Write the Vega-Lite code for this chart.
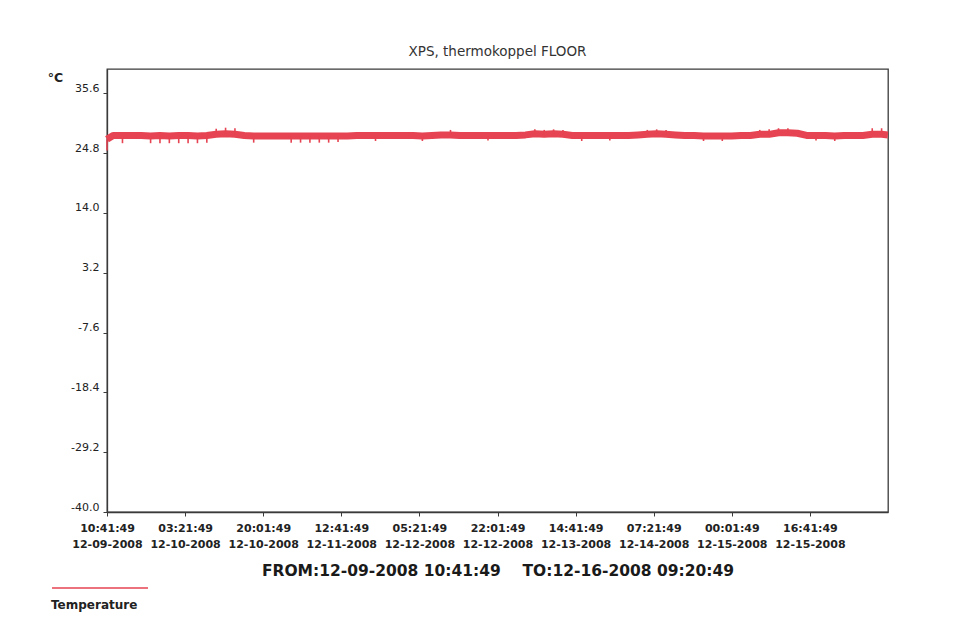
{
  "$schema": "https://vega.github.io/schema/vega-lite/v6.json",
  "width": 781,
  "height": 443,
  "autosize": "none",
  "padding": {"left": 107, "top": 69, "right": 91, "bottom": 122},
  "background": "white",
  "title": {"text": "XPS, thermokoppel FLOOR", "fontSize": 13.5, "fontWeight": "normal", "color": "#333", "anchor": "middle", "frame": "group", "baseline": "alphabetic", "offset": 0, "dy": 0, "font": "DejaVu Sans"},
  "data": {"values": [
    {"t": "2008-12-09T10:41:49Z", "temp": 27.3, "lo": 25.3, "hi": 27.3},
    {"t": "2008-12-09T12:00:00Z", "temp": 28.0, "lo": 28.0, "hi": 28.0},
    {"t": "2008-12-09T14:00:00Z", "temp": 28.0, "lo": 26.6, "hi": 28.0},
    {"t": "2008-12-09T16:00:00Z", "temp": 28.0, "lo": 28.0, "hi": 28.0},
    {"t": "2008-12-09T18:00:00Z", "temp": 28.0, "lo": 28.0, "hi": 28.0},
    {"t": "2008-12-09T20:00:00Z", "temp": 27.9, "lo": 26.6, "hi": 27.9},
    {"t": "2008-12-09T22:00:00Z", "temp": 28.0, "lo": 26.6, "hi": 28.0},
    {"t": "2008-12-10T00:00:00Z", "temp": 27.9, "lo": 26.6, "hi": 27.9},
    {"t": "2008-12-10T02:00:00Z", "temp": 28.0, "lo": 26.6, "hi": 28.0},
    {"t": "2008-12-10T04:00:00Z", "temp": 28.0, "lo": 26.6, "hi": 28.0},
    {"t": "2008-12-10T06:00:00Z", "temp": 27.9, "lo": 26.6, "hi": 27.9},
    {"t": "2008-12-10T08:00:00Z", "temp": 28.0, "lo": 26.7, "hi": 28.0},
    {"t": "2008-12-10T10:00:00Z", "temp": 28.2, "lo": 28.2, "hi": 29.2},
    {"t": "2008-12-10T12:00:00Z", "temp": 28.3, "lo": 28.3, "hi": 29.4},
    {"t": "2008-12-10T14:00:00Z", "temp": 28.2, "lo": 28.2, "hi": 29.3},
    {"t": "2008-12-10T16:00:00Z", "temp": 28.0, "lo": 28.0, "hi": 28.0},
    {"t": "2008-12-10T18:00:00Z", "temp": 27.9, "lo": 26.7, "hi": 27.9},
    {"t": "2008-12-10T20:00:00Z", "temp": 27.9, "lo": 27.9, "hi": 27.9},
    {"t": "2008-12-10T22:00:00Z", "temp": 27.9, "lo": 27.9, "hi": 27.9},
    {"t": "2008-12-11T00:00:00Z", "temp": 27.9, "lo": 27.9, "hi": 27.9},
    {"t": "2008-12-11T02:00:00Z", "temp": 27.9, "lo": 26.7, "hi": 27.9},
    {"t": "2008-12-11T04:00:00Z", "temp": 27.9, "lo": 26.7, "hi": 27.9},
    {"t": "2008-12-11T06:00:00Z", "temp": 27.9, "lo": 26.7, "hi": 27.9},
    {"t": "2008-12-11T08:00:00Z", "temp": 27.9, "lo": 26.7, "hi": 27.9},
    {"t": "2008-12-11T10:00:00Z", "temp": 27.9, "lo": 26.7, "hi": 27.9},
    {"t": "2008-12-11T12:00:00Z", "temp": 27.9, "lo": 26.8, "hi": 27.9},
    {"t": "2008-12-11T14:00:00Z", "temp": 27.9, "lo": 27.9, "hi": 27.9},
    {"t": "2008-12-11T16:00:00Z", "temp": 28.0, "lo": 28.0, "hi": 28.0},
    {"t": "2008-12-11T18:00:00Z", "temp": 28.0, "lo": 28.0, "hi": 28.0},
    {"t": "2008-12-11T20:00:00Z", "temp": 28.0, "lo": 27.0, "hi": 28.0},
    {"t": "2008-12-11T22:00:00Z", "temp": 28.0, "lo": 28.0, "hi": 28.0},
    {"t": "2008-12-12T00:00:00Z", "temp": 28.0, "lo": 28.0, "hi": 28.0},
    {"t": "2008-12-12T02:00:00Z", "temp": 28.0, "lo": 28.0, "hi": 28.0},
    {"t": "2008-12-12T04:00:00Z", "temp": 28.0, "lo": 28.0, "hi": 28.0},
    {"t": "2008-12-12T06:00:00Z", "temp": 27.9, "lo": 27.0, "hi": 27.9},
    {"t": "2008-12-12T08:00:00Z", "temp": 28.0, "lo": 28.0, "hi": 28.0},
    {"t": "2008-12-12T10:00:00Z", "temp": 28.1, "lo": 28.1, "hi": 28.1},
    {"t": "2008-12-12T12:00:00Z", "temp": 28.1, "lo": 28.1, "hi": 29.0},
    {"t": "2008-12-12T14:00:00Z", "temp": 28.0, "lo": 28.0, "hi": 28.0},
    {"t": "2008-12-12T16:00:00Z", "temp": 28.0, "lo": 28.0, "hi": 28.0},
    {"t": "2008-12-12T18:00:00Z", "temp": 28.0, "lo": 28.0, "hi": 28.0},
    {"t": "2008-12-12T20:00:00Z", "temp": 28.0, "lo": 27.1, "hi": 28.0},
    {"t": "2008-12-12T22:00:00Z", "temp": 28.0, "lo": 28.0, "hi": 28.0},
    {"t": "2008-12-13T00:00:00Z", "temp": 28.0, "lo": 28.0, "hi": 28.0},
    {"t": "2008-12-13T02:00:00Z", "temp": 28.0, "lo": 28.0, "hi": 28.0},
    {"t": "2008-12-13T04:00:00Z", "temp": 28.1, "lo": 28.1, "hi": 28.1},
    {"t": "2008-12-13T06:00:00Z", "temp": 28.3, "lo": 28.3, "hi": 29.1},
    {"t": "2008-12-13T08:00:00Z", "temp": 28.2, "lo": 28.2, "hi": 29.0},
    {"t": "2008-12-13T10:00:00Z", "temp": 28.3, "lo": 28.3, "hi": 29.1},
    {"t": "2008-12-13T12:00:00Z", "temp": 28.2, "lo": 28.2, "hi": 29.0},
    {"t": "2008-12-13T14:00:00Z", "temp": 28.0, "lo": 28.0, "hi": 28.0},
    {"t": "2008-12-13T16:00:00Z", "temp": 28.0, "lo": 27.0, "hi": 28.0},
    {"t": "2008-12-13T18:00:00Z", "temp": 28.0, "lo": 28.0, "hi": 28.0},
    {"t": "2008-12-13T20:00:00Z", "temp": 28.0, "lo": 28.0, "hi": 28.0},
    {"t": "2008-12-13T22:00:00Z", "temp": 28.0, "lo": 27.1, "hi": 28.0},
    {"t": "2008-12-14T00:00:00Z", "temp": 28.0, "lo": 28.0, "hi": 28.0},
    {"t": "2008-12-14T02:00:00Z", "temp": 28.0, "lo": 28.0, "hi": 28.0},
    {"t": "2008-12-14T04:00:00Z", "temp": 28.1, "lo": 28.1, "hi": 28.1},
    {"t": "2008-12-14T06:00:00Z", "temp": 28.2, "lo": 28.2, "hi": 29.0},
    {"t": "2008-12-14T08:00:00Z", "temp": 28.3, "lo": 28.3, "hi": 29.1},
    {"t": "2008-12-14T10:00:00Z", "temp": 28.2, "lo": 28.2, "hi": 29.0},
    {"t": "2008-12-14T12:00:00Z", "temp": 28.1, "lo": 28.1, "hi": 28.1},
    {"t": "2008-12-14T14:00:00Z", "temp": 28.0, "lo": 28.0, "hi": 28.0},
    {"t": "2008-12-14T16:00:00Z", "temp": 28.0, "lo": 28.0, "hi": 28.0},
    {"t": "2008-12-14T18:00:00Z", "temp": 27.9, "lo": 27.0, "hi": 27.9},
    {"t": "2008-12-14T20:00:00Z", "temp": 27.9, "lo": 27.9, "hi": 27.9},
    {"t": "2008-12-14T22:00:00Z", "temp": 27.9, "lo": 27.0, "hi": 27.9},
    {"t": "2008-12-15T00:00:00Z", "temp": 27.9, "lo": 27.9, "hi": 27.9},
    {"t": "2008-12-15T02:00:00Z", "temp": 28.0, "lo": 28.0, "hi": 28.0},
    {"t": "2008-12-15T04:00:00Z", "temp": 28.0, "lo": 28.0, "hi": 28.0},
    {"t": "2008-12-15T06:00:00Z", "temp": 28.2, "lo": 28.2, "hi": 29.0},
    {"t": "2008-12-15T08:00:00Z", "temp": 28.2, "lo": 28.2, "hi": 29.1},
    {"t": "2008-12-15T10:00:00Z", "temp": 28.5, "lo": 28.5, "hi": 29.3},
    {"t": "2008-12-15T12:00:00Z", "temp": 28.5, "lo": 28.5, "hi": 29.3},
    {"t": "2008-12-15T14:00:00Z", "temp": 28.4, "lo": 28.4, "hi": 28.4},
    {"t": "2008-12-15T16:00:00Z", "temp": 28.0, "lo": 28.0, "hi": 28.0},
    {"t": "2008-12-15T18:00:00Z", "temp": 28.0, "lo": 27.1, "hi": 28.0},
    {"t": "2008-12-15T20:00:00Z", "temp": 28.0, "lo": 28.0, "hi": 28.0},
    {"t": "2008-12-15T22:00:00Z", "temp": 27.9, "lo": 27.0, "hi": 27.9},
    {"t": "2008-12-16T00:00:00Z", "temp": 28.0, "lo": 28.0, "hi": 28.0},
    {"t": "2008-12-16T02:00:00Z", "temp": 28.0, "lo": 28.0, "hi": 28.0},
    {"t": "2008-12-16T04:00:00Z", "temp": 28.0, "lo": 28.0, "hi": 28.0},
    {"t": "2008-12-16T06:00:00Z", "temp": 28.2, "lo": 28.2, "hi": 29.3},
    {"t": "2008-12-16T08:00:00Z", "temp": 28.2, "lo": 28.2, "hi": 29.3},
    {"t": "2008-12-16T09:20:49Z", "temp": 28.1, "lo": 28.1, "hi": 28.1}
  ]},
  "encoding": {
    "x": {
      "field": "t",
      "type": "temporal",
      "scale": {
        "type": "utc",
        "domain": [
          {"year": 2008, "month": 12, "date": 9, "hours": 10, "minutes": 41, "seconds": 49, "utc": true},
          {"year": 2008, "month": 12, "date": 16, "hours": 9, "minutes": 21, "seconds": 49, "utc": true}
        ]
      },
      "axis": {
        "values": [
          {"year": 2008, "month": 12, "date": 9, "hours": 10, "minutes": 41, "seconds": 49, "utc": true},
          {"year": 2008, "month": 12, "date": 10, "hours": 3, "minutes": 21, "seconds": 49, "utc": true},
          {"year": 2008, "month": 12, "date": 10, "hours": 20, "minutes": 1, "seconds": 49, "utc": true},
          {"year": 2008, "month": 12, "date": 11, "hours": 12, "minutes": 41, "seconds": 49, "utc": true},
          {"year": 2008, "month": 12, "date": 12, "hours": 5, "minutes": 21, "seconds": 49, "utc": true},
          {"year": 2008, "month": 12, "date": 12, "hours": 22, "minutes": 1, "seconds": 49, "utc": true},
          {"year": 2008, "month": 12, "date": 13, "hours": 14, "minutes": 41, "seconds": 49, "utc": true},
          {"year": 2008, "month": 12, "date": 14, "hours": 7, "minutes": 21, "seconds": 49, "utc": true},
          {"year": 2008, "month": 12, "date": 15, "hours": 0, "minutes": 1, "seconds": 49, "utc": true},
          {"year": 2008, "month": 12, "date": 15, "hours": 16, "minutes": 41, "seconds": 49, "utc": true}
        ],
        "labelExpr": "[utcFormat(datum.value, '%H:%M:%S'), utcFormat(datum.value, '%m-%d-%Y')]",
        "labelFont": "DejaVu Sans",
        "labelFontSize": 11,
        "labelFontWeight": "bold",
        "labelLineHeight": 16.5,
        "labelPadding": 6,
        "labelOverlap": false,
        "labelFlush": false,
        "title": "FROM:12-09-2008 10:41:49\u00a0\u00a0\u00a0\u00a0TO:12-16-2008 09:20:49",
        "titleFont": "DejaVu Sans",
        "titleFontSize": 15.5,
        "titleFontWeight": "bold",
        "titlePadding": 14,
        "titleColor": "#1a1a1a"
      }
    }
  },
  "layer": [
    {
      "mark": {"type": "line", "strokeWidth": 7, "strokeCap": "butt", "strokeJoin": "round"},
      "encoding": {
        "y": {
          "field": "temp",
          "type": "quantitative",
          "title": "°C",
          "scale": {"domain": [-40, 40], "nice": false, "zero": false},
          "axis": {
            "values": [-40, -29.2, -18.4, -7.6, 3.2, 14, 24.8, 35.6],
            "format": ".1f",
            "labelExpr": "replace(format(datum.value, '.1f'), '\u2212', '-')",
            "labelFont": "DejaVu Sans",
            "labelFontSize": 11,
            "labelBaseline": "bottom",
            "labelPadding": 4,
            "titleAngle": 0,
            "titleX": -52,
            "titleY": 8.5,
            "titleAlign": "center",
            "titleBaseline": "middle",
            "titleFont": "DejaVu Sans",
            "titleFontSize": 12.5,
            "titleFontWeight": "bold"
          }
        },
        "color": {
          "datum": "Temperature",
          "scale": {"range": ["#e64452"]},
          "legend": {
            "orient": "none",
            "legendX": -57,
            "legendY": 513,
            "title": null,
            "padding": 0,
            "symbolType": "M-1,0H23",
            "symbolSize": 64,
            "symbolStrokeWidth": 1.5,
            "labelOffset": -11,
            "labelFont": "DejaVu Sans",
            "labelFontSize": 12,
            "labelFontWeight": "bold",
            "labelColor": "#222",
            "labelBaseline": "middle",
            "encode": {"labels": {"update": {"dy": {"value": 17}}}}
          }
        }
      }
    },
    {
      "mark": {"type": "rule", "strokeWidth": 1.6, "color": "#e64452"},
      "encoding": {
        "y": {"field": "lo", "type": "quantitative", "title": "°C"},
        "y2": {"field": "hi"}
      }
    }
  ],
  "config": {
    "font": "DejaVu Sans",
    "view": {"stroke": "#3a3a3a", "strokeWidth": 1.3},
    "axis": {"grid": false, "domainColor": "#3a3a3a", "tickColor": "#3a3a3a", "labelColor": "#222", "titleColor": "#222", "tickSize": 4, "domainWidth": 1.3}
  }
}
